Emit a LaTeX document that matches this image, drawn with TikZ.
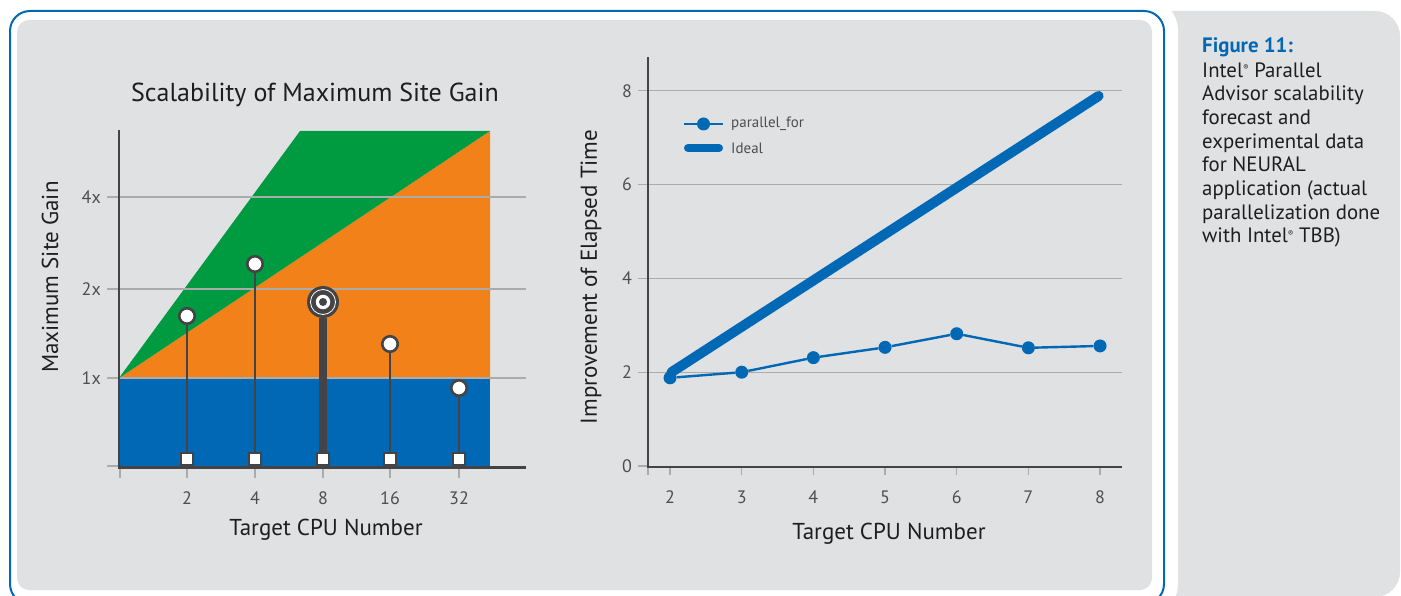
\documentclass[tikz,border=0pt]{standalone}
\usepackage{fontspec}
\setmainfont{PT Sans}
\definecolor{panel}{HTML}{E0E1E3}
\definecolor{iblue}{HTML}{0068B5}
\definecolor{igreen}{HTML}{009A40}
\definecolor{iorange}{HTML}{F28119}
\definecolor{axisgray}{HTML}{444446}
\definecolor{gridgray}{HTML}{ABABAB}
\definecolor{textgray}{HTML}{4E4E50}
\definecolor{textdark}{HTML}{1E1E1E}
\newcommand{\regmark}{\raisebox{6.5pt}{\fontsize{8}{8}\selectfont ®}}
\tikzset{
  gridline/.style={gridgray, line width=1.2pt},
  axisline/.style={axisgray, line width=2.6pt},
  ticklabel/.style={textgray, font=\fontsize{18}{18}\selectfont, inner sep=0pt},
  axislabel/.style={textdark, font=\fontsize{23}{23}\selectfont, inner sep=0pt},
  stem/.style={axisgray, line width=2.6pt},
  headdot/.style={circle, fill=white, draw=axisgray, line width=2.6pt, minimum size=15.5pt, inner sep=0pt},
  footbox/.style={rectangle, fill=white, draw=axisgray, line width=2pt, minimum size=12pt, inner sep=0pt},
  datadot/.style={circle, fill=iblue, minimum size=13pt, inner sep=0pt},
  legendtext/.style={textgray, font=\fontsize{15}{15}\selectfont, inner sep=0pt, anchor=west},
}
\begin{document}
\begin{tikzpicture}[x=1pt, y=-1pt]
\useasboundingbox (0,0) rectangle (1401,596);

% caption panel on the right
\fill[panel, rounded corners=25pt] (1140,11) rectangle (1400,597);

% framed chart area: white halo, white fill, blue rule
\draw[white, line width=28pt, rounded corners=20pt] (10,11) rectangle (1164,604);
\filldraw[fill=white, draw=iblue, line width=2pt, rounded corners=20pt] (10,11) rectangle (1164,604);
\fill[panel, rounded corners=12pt] (17,20) rectangle (1152,590);

% ---------------- left chart: scalability of maximum site gain
\node[textdark, font=\fontsize{26}{26}\selectfont, inner sep=0pt] (ltitle) at (315,95) {Scalability of Maximum Site Gain};

\fill[iblue] (119,378) rectangle (490,466);
\fill[iorange] (119,378) -- (490,131) -- (490,378) -- cycle;
\fill[igreen] (119,378) -- (300,131) -- (490,131) -- cycle;

\foreach \gy in {197,289,378} \draw[gridline] (107,\gy) -- (526,\gy);
\draw[gridline] (107,466) -- (119,466);
\foreach \tx in {120,187,255,323,390,459} \draw[gridline] (\tx,466) -- (\tx,478);

\draw[axisline] (119,130) -- (119,467.3) -- (526,467.3);

\node[ticklabel, anchor=east] (l4x) at (101,197) {4x};
\node[ticklabel, anchor=east] (l2x) at (101,289) {2x};
\node[ticklabel, anchor=east] (l1x) at (101,378) {1x};
\foreach \tx/\tl in {187/2,255/4,323/8,390/16,459/32}
  \node[ticklabel] (lt\tl) at (\tx,498) {\tl};

\node[axislabel, rotate=90] (lylab) at (50,277) {Maximum Site Gain};
\node[axislabel] (lxlab) at (326,530) {Target CPU Number};

% stems
\foreach \sx/\sy/\sn in {187/316/a,255/264/b,390/344/d,459/388/e}{
  \node[footbox] (f\sn) at (\sx,459) {};
  \node[headdot] (h\sn) at (\sx,\sy) {};
  \draw[stem] (h\sn) -- (f\sn);
}
% highlighted site
\node[circle, fill=axisgray, minimum size=32pt, inner sep=0pt] (hc) at (323,302) {};
\node[footbox] (fc) at (323,459) {};
\draw[axisgray, line width=7.5pt] (hc.south) -- (fc.north);
\draw[white, line width=0.8pt] (hc.center) circle[radius=12.5];
\node[circle, fill=white, minimum size=14.5pt, inner sep=0pt] (hcw) at (hc.center) {};
\node[circle, fill=axisgray, minimum size=8pt, inner sep=0pt] (hcd) at (hc.center) {};

% ---------------- right chart: improvement of elapsed time
\node[axislabel, rotate=90] (rylab) at (591,277) {Improvement of Elapsed Time};
\node[axislabel] (rxlab) at (889,534) {Target CPU Number};

\begin{scope}[shift={(526.7pt,-466pt)}, x=71.67pt, y=46.9pt]
  \foreach \gv in {2,4,6,8} {
    \draw[gridline] (1.553,\gv) -- (8.306,\gv);
    \node[ticklabel] (ry\gv) at (1.4,\gv) {\gv};
  }
  \node[ticklabel] (ry0) at (1.4,0) {0};
  \draw[gridline] (1.553,0) -- (1.6925,0);
  \draw[gridline] (1.6925,0) -- (1.6925,-0.2);
  \foreach \xv in {2,...,8} {
    \draw[gridline] (\xv,0) -- (\xv,-0.2);
    \node[ticklabel] (rx\xv) at (\xv,-0.66) {\xv};
  }
  \draw[axisline] (1.6925,8.72) -- (1.6925,-0.025) -- (8.306,-0.025);

  % ideal speed-up
  \coordinate (i2) at (2.02,2.0);
  \coordinate (i8) at (7.98,7.89);
  \draw[iblue, line width=10pt, line cap=round] (i2) -- (i8);

  % measured speed-up
  \foreach \xv/\yv in {2/1.88,3/2.0,4/2.31,5/2.53,6/2.82,7/2.52,8/2.56}
    \node[datadot] (p\xv) at (\xv,\yv) {};
  \draw[iblue, line width=2.4pt] (p2) -- (p3) -- (p4) -- (p5) -- (p6) -- (p7) -- (p8);
\end{scope}

% legend
\coordinate (lga) at (684,124);
\coordinate (lgb) at (723,124);
\draw[iblue, line width=2.4pt] (lga) -- (lgb);
\node[datadot] (lgdot) at (703.5,124) {};
\node[legendtext] (lgt1) at (731,124) {parallel\_for};
\coordinate (lgc) at (688,148);
\coordinate (lgd) at (719,148);
\draw[iblue, line width=8pt, line cap=round] (lgc) -- (lgd);
\node[legendtext] (lgt2) at (731,148) {Ideal};

% ---------------- caption
\node[anchor=north west, align=left, inner sep=0pt, textdark,
      font=\fontsize{20.8}{23.7}\selectfont] (caption) at (1202,37)
  {\textcolor{iblue}{\bfseries Figure 11:}\\[1.3pt]
   Intel\regmark{} Parallel\\
   Advisor scalability\\
   forecast and\\
   experimental data\\
   for NEURAL\\
   application (actual\\
   parallelization done\\
   with Intel\regmark{} TBB)};
\end{tikzpicture}
\end{document}
